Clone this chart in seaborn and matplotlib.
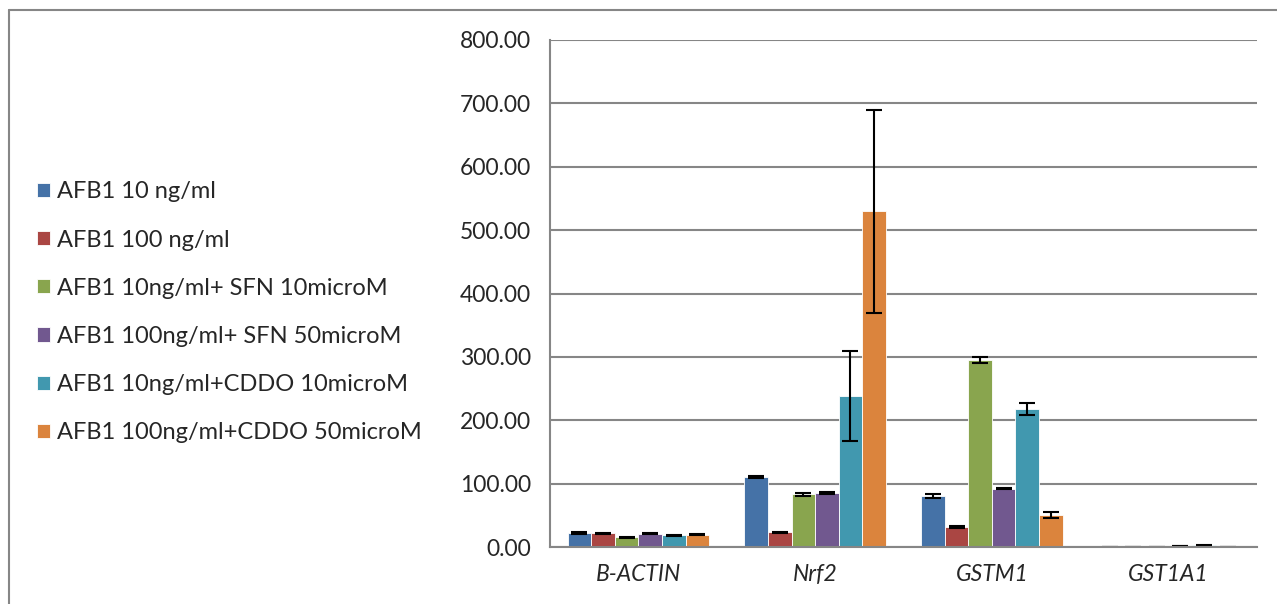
import pandas as pd
import seaborn as sns
import matplotlib.pyplot as plt
from matplotlib.lines import Line2D

# data
genes = ['B-ACTIN', 'Nrf2', 'GSTM1', 'GST1A1']
treatments = ['AFB1 10 ng/ml', 'AFB1 100 ng/ml', 'AFB1 10ng/ml+ SFN 10microM',
              'AFB1 100ng/ml+ SFN 50microM', 'AFB1 10ng/ml+CDDO 10microM',
              'AFB1 100ng/ml+CDDO 50microM']
afb1_10 = [22.0, 111.0, 80.0, 0.3]
afb1_100 = [21.5, 23.0, 31.0, 0.3]
sfn_10 = [15.5, 83.0, 295.5, 0.4]
sfn_50 = [21.0, 85.0, 92.0, 1.5]
cddo_10 = [18.5, 239.0, 218.0, 2.5]
cddo_50 = [19.5, 530.0, 51.0, 0.4]
err_10 = [1.0, 1.5, 3.0, 0.1]
err_100 = [1.0, 1.0, 1.5, 0.1]
err_sfn10 = [1.0, 2.0, 5.0, 0.1]
err_sfn50 = [1.0, 1.5, 1.0, 0.5]
err_cddo10 = [1.0, 71.0, 10.0, 0.5]
err_cddo50 = [1.0, 160.0, 4.5, 0.1]
colors = ['#4572A7', '#AA4643', '#89A54E', '#71588F', '#4198AF', '#DB843D']

series = [afb1_10, afb1_100, sfn_10, sfn_50, cddo_10, cddo_50]
errs = [err_10, err_100, err_sfn10, err_sfn50, err_cddo10, err_cddo50]
rows = []
for t, vals, ee in zip(treatments, series, errs):
    for g, v, e in zip(genes, vals, ee):
        rows.append({'gene': g, 'treatment': t, 'value': v, 'err': e})
df = pd.DataFrame(rows)

sns.set_style('white')
plt.rcParams['font.family'] = ['Lato', 'DejaVu Sans']
fs = 16.5

fig = plt.figure(figsize=(12.77, 6.04), dpi=100)
ax = fig.add_axes([550 / 1277, 57 / 604, 707 / 1277, 507 / 604])

sns.barplot(data=df, x='gene', y='value', hue='treatment', order=genes,
            hue_order=treatments, palette=colors, width=0.8, errorbar=None,
            saturation=1, edgecolor='white', linewidth=0.6, ax=ax, zorder=2)

# error bars at the bar centres
for t, container in zip(treatments, ax.containers):
    sub = df[df['treatment'] == t].set_index('gene').loc[genes]
    xs = [p.get_x() + p.get_width() / 2 for p in container.patches]
    ax.errorbar(xs, sub['value'], yerr=sub['err'], fmt='none', ecolor='black',
                elinewidth=1.5, capsize=5.5, capthick=1.5, zorder=3)

ax.set_xlim(-0.5, 3.5)
ax.set_ylim(0, 800)
ax.set_yticks(range(0, 801, 100))
ax.set_yticklabels([f'{v:.2f}' for v in range(0, 801, 100)], fontsize=fs)
ax.set_xticks(range(len(genes)))
ax.set_xticklabels(genes, fontsize=fs, fontstyle='italic')
ax.set_xticks([-0.5, 0.5, 1.5, 2.5, 3.5], minor=True)
ax.tick_params(axis='x', which='major', length=0, pad=12)
ax.tick_params(axis='x', which='minor', length=5, width=1.5, color='#868686', direction='out')
ax.tick_params(axis='y', length=4.5, width=1.5, color='#868686', direction='out', pad=9)
ax.grid(axis='y', color='#868686', linewidth=1.5, zorder=0)
ax.set_axisbelow(True)
ax.set_xlabel('')
ax.set_ylabel('')
for s in ['top', 'right']:
    ax.spines[s].set_visible(False)
for s in ['left', 'bottom']:
    ax.spines[s].set_color('#868686')
    ax.spines[s].set_linewidth(1.5)
ax.spines['bottom'].set_zorder(4)

handles, labels = ax.get_legend_handles_labels()
ax.legend(handles, labels, loc='center left', bbox_to_anchor=(37 / 1277, 0.483),
          bbox_transform=fig.transFigure, frameon=False, fontsize=17,
          handlelength=0.55, handleheight=0.55, handletextpad=0.3,
          labelspacing=1.15, borderaxespad=0, borderpad=0)

# outer chart frame (left and top edges)
fig.add_artist(Line2D([9 / 1277, 9 / 1277], [0, 1 - 10 / 604], color='#868686', linewidth=1.5))
fig.add_artist(Line2D([9 / 1277, 1], [1 - 10 / 604, 1 - 10 / 604], color='#868686', linewidth=1.5))

fig.savefig('out.png', dpi=100)
